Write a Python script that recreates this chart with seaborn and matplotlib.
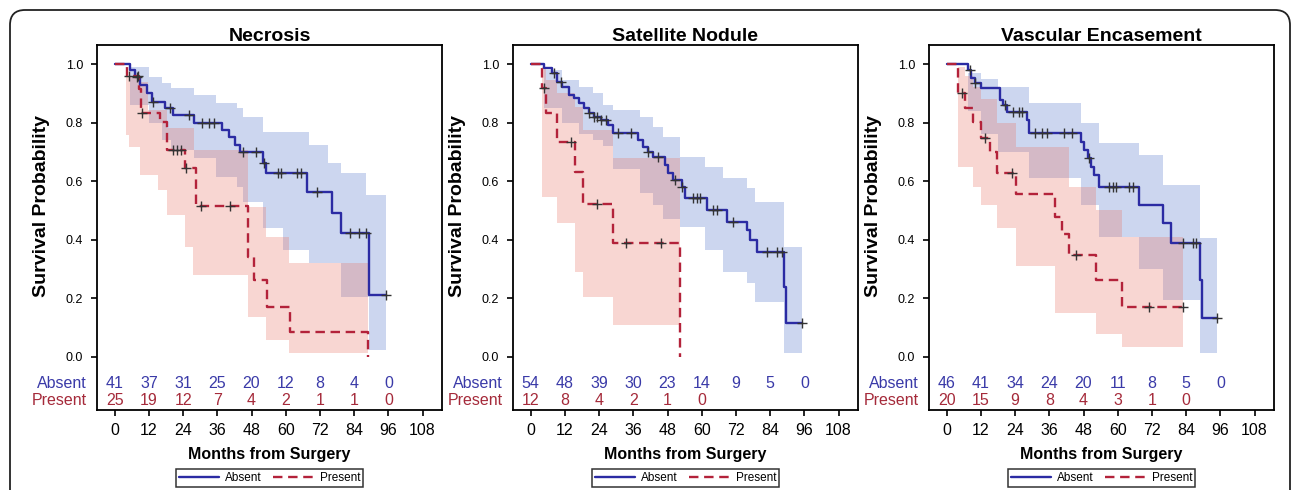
import numpy as np
import pandas as pd
import matplotlib
matplotlib.use("Agg")
import matplotlib.pyplot as plt
import seaborn as sns
from matplotlib.patches import FancyBboxPatch
from matplotlib.lines import Line2D
from matplotlib.transforms import blended_transform_factory

sns.set_theme(style="white")
plt.rcParams["font.family"] = ["Liberation Sans", "DejaVu Sans"]
plt.rcParams["text.color"] = "black"
plt.rcParams["axes.labelcolor"] = "black"

# ---- data ----
titles = ["Necrosis", "Satellite Nodule", "Vascular Encasement"]
groups = ["Absent", "Present"]
risk_times = [0, 12, 24, 36, 48, 60, 72, 84, 96]

# Necrosis
nec_abs_t = [0, 5.5, 7.3, 9.0, 11.3, 13.1, 17.6, 20.5, 27.9, 37.7, 40.0, 42.3, 44.0, 52.0, 53.2, 67.5, 76.1, 79.5, 89.2]
nec_abs_s = [1.0, 0.98, 0.957, 0.928, 0.90, 0.871, 0.849, 0.826, 0.80, 0.775, 0.75, 0.724, 0.70, 0.661, 0.627, 0.564, 0.493, 0.422, 0.212]
nec_abs_end = 95.0
nec_abs_cens = [7.9, 13.6, 19.4, 26.2, 30.8, 33.1, 34.8, 45.1, 49.7, 52.3, 57.2, 58.3, 64.0, 65.2, 70.9, 82.4, 85.8, 88.1, 95.0]
nec_abs_bt = [5.5, 11.9, 16.5, 19.9, 27.9, 35.4, 42.8, 45.1, 52.0, 58.9, 68.0, 74.9, 79.5, 88.1, 89.2]
nec_abs_hi = [0.99, 0.957, 0.934, 0.917, 0.894, 0.866, 0.849, 0.82, 0.769, 0.769, 0.724, 0.661, 0.627, 0.553, 0.553]
nec_abs_lo = [0.86, 0.80, 0.741, 0.706, 0.68, 0.615, 0.581, 0.53, 0.439, 0.365, 0.32, 0.32, 0.206, 0.206, 0.024]

nec_pre_t = [0, 4.2, 8.4, 9.4, 15.9, 18.2, 24.7, 28.5, 46.8, 49.0, 53.4, 61.4, 88.7]
nec_pre_s = [1.0, 0.959, 0.914, 0.832, 0.803, 0.706, 0.644, 0.515, 0.342, 0.262, 0.172, 0.085, 0.0]
nec_pre_end = 88.7
nec_pre_cens = [5.0, 8.3, 9.6, 20.5, 21.7, 23.4, 25.1, 30.2, 40.5]
nec_pre_bt = [3.9, 5.0, 8.4, 9.0, 11.8, 15.3, 18.2, 24.5, 27.4, 27.8, 46.8, 53.2, 61.2]
nec_pre_hi = [0.96, 0.96, 0.94, 0.94, 0.843, 0.843, 0.78, 0.78, 0.78, 0.706, 0.513, 0.41, 0.32]
nec_pre_lo = [0.758, 0.718, 0.718, 0.621, 0.621, 0.57, 0.485, 0.377, 0.28, 0.28, 0.138, 0.058, 0.0125]

nec_risk_abs = [41, 37, 31, 25, 20, 12, 8, 4, 0]
nec_risk_pre = [25, 19, 12, 7, 4, 2, 1, 1, 0]

# Satellite Nodule
sat_abs_t = [0, 4.6, 7.5, 9.3, 11.1, 13.4, 15.2, 17.0, 18.7, 20.5, 22.3, 24.6, 27.0, 28.7, 37.6, 39.3, 41.1,
             42.9, 47.0, 48.2, 49.9, 52.9, 54.1, 61.7, 68.8, 75.8, 77.0, 79.4, 89.0, 89.7]
sat_abs_s = [1.0, 0.985, 0.968, 0.94, 0.923, 0.894, 0.883, 0.866, 0.849, 0.832, 0.82, 0.809, 0.792, 0.763, 0.741,
             0.718, 0.701, 0.684, 0.655, 0.627, 0.604, 0.581, 0.542, 0.502, 0.462, 0.433, 0.399, 0.36, 0.24, 0.115]
sat_abs_end = 95.3
sat_abs_cens = [8.1, 10.5, 20.5, 22.3, 23.4, 24.6, 26.4, 30.5, 35.2, 41.1, 44.6, 50.5, 52.9, 57.0, 58.2, 59.4,
                64.1, 65.2, 71.1, 82.9, 86.4, 88.2, 95.3]
sat_abs_bt = [4.6, 11.1, 17.0, 21.7, 25.2, 28.7, 38.2, 42.9, 46.4, 52.3, 61.1, 67.6, 75.8, 78.8, 88.8]
sat_abs_hi = [0.98, 0.945, 0.923, 0.90, 0.86, 0.843, 0.82, 0.786, 0.752, 0.684, 0.65, 0.61, 0.576, 0.53, 0.377]
sat_abs_lo = [0.85, 0.80, 0.76, 0.74, 0.72, 0.64, 0.56, 0.52, 0.47, 0.445, 0.365, 0.291, 0.251, 0.189, 0.0125]

sat_pre_t = [0, 3.8, 5.2, 9.3, 15.5, 18.5, 28.7, 52.3]
sat_pre_s = [1.0, 0.917, 0.832, 0.735, 0.633, 0.522, 0.39, 0.0]
sat_pre_end = 52.3
sat_pre_cens = [4.8, 14.0, 23.4, 33.4, 45.8]
sat_pre_bt = [3.8, 5.2, 9.3, 15.5, 18.5, 28.7]
sat_pre_hi = [0.99, 0.945, 0.90, 0.854, 0.775, 0.678]
sat_pre_lo = [0.547, 0.547, 0.456, 0.291, 0.206, 0.109]

sat_risk_abs = [54, 48, 39, 30, 23, 14, 9, 5, 0]
sat_risk_pre = [12, 8, 4, 2, 1, 0]

# Vascular Encasement
vas_abs_t = [0, 7.5, 8.7, 9.9, 12.2, 18.7, 19.9, 21.1, 28.1, 28.7, 47.0, 48.2, 49.5, 50.5, 51.7, 53.5,
             67.6, 75.8, 78.8, 88.8, 89.4]
vas_abs_s = [1.0, 0.98, 0.951, 0.934, 0.917, 0.877, 0.86, 0.837, 0.809, 0.763, 0.735, 0.706, 0.68, 0.65,
             0.621, 0.581, 0.519, 0.456, 0.388, 0.263, 0.132]
vas_abs_end = 94.7
vas_abs_cens = [8.1, 9.9, 20.5, 23.4, 25.2, 26.4, 31.1, 33.5, 35.2, 41.1, 44.0, 49.9, 57.0, 58.2, 59.4,
                64.1, 65.2, 82.9, 86.4, 87.6, 94.7]
vas_abs_bt = [7.5, 12.2, 18.1, 28.7, 47.0, 53.5, 67.6, 75.8, 88.8]
vas_abs_hi = [0.97, 0.95, 0.92, 0.866, 0.80, 0.73, 0.69, 0.587, 0.405]
vas_abs_lo = [0.84, 0.76, 0.70, 0.61, 0.52, 0.411, 0.30, 0.195, 0.0125]

vas_pre_t = [0, 3.8, 6.3, 9.3, 12.2, 15.2, 17.5, 24.2, 38.1, 40.5, 42.9, 52.3, 61.5]
vas_pre_s = [1.0, 0.90, 0.849, 0.803, 0.746, 0.70, 0.627, 0.556, 0.479, 0.42, 0.348, 0.263, 0.172]
vas_pre_end = 82.9
vas_pre_cens = [5.2, 13.4, 22.8, 45.2, 71.1, 82.9]
vas_pre_bt = [3.8, 6.3, 9.3, 12.2, 17.5, 24.2, 38.1, 42.9, 52.3, 61.5]
vas_pre_hi = [0.99, 0.96, 0.92, 0.88, 0.80, 0.718, 0.718, 0.581, 0.502, 0.411]
vas_pre_lo = [0.65, 0.65, 0.58, 0.52, 0.44, 0.31, 0.15, 0.15, 0.08, 0.035]

vas_risk_abs = [46, 41, 34, 24, 20, 11, 8, 5, 0]
vas_risk_pre = [20, 15, 9, 8, 4, 3, 1, 0]

panels = [
    dict(title=titles[0],
         abs=(nec_abs_t, nec_abs_s, nec_abs_end, nec_abs_cens, nec_abs_bt, nec_abs_lo, nec_abs_hi),
         pre=(nec_pre_t, nec_pre_s, nec_pre_end, nec_pre_cens, nec_pre_bt, nec_pre_lo, nec_pre_hi),
         risk=(nec_risk_abs, nec_risk_pre)),
    dict(title=titles[1],
         abs=(sat_abs_t, sat_abs_s, sat_abs_end, sat_abs_cens, sat_abs_bt, sat_abs_lo, sat_abs_hi),
         pre=(sat_pre_t, sat_pre_s, sat_pre_end, sat_pre_cens, sat_pre_bt, sat_pre_lo, sat_pre_hi),
         risk=(sat_risk_abs, sat_risk_pre)),
    dict(title=titles[2],
         abs=(vas_abs_t, vas_abs_s, vas_abs_end, vas_abs_cens, vas_abs_bt, vas_abs_lo, vas_abs_hi),
         pre=(vas_pre_t, vas_pre_s, vas_pre_end, vas_pre_cens, vas_pre_bt, vas_pre_lo, vas_pre_hi),
         risk=(vas_risk_abs, vas_risk_pre)),
]

# ---- styles ----
line_col = {"Absent": "#2b2ba3", "Present": "#b3223a"}
band_col = {"Absent": "#6585cf", "Present": "#e8786a"}
band_alpha = {"Absent": 0.33, "Present": 0.3}
text_col = {"Absent": "#3a3aa8", "Present": "#a52a3a"}
W, H = 1292, 490
lefts = [97, 513, 929]

fig = plt.figure(figsize=(W / 100, H / 100), dpi=100)
fig.patch.set_facecolor("white")

for left, p in zip(lefts, panels):
    ax = fig.add_axes([left / W, 80 / H, 345 / W, 365 / H])
    ax.set_facecolor("white")

    rows = []
    for g in groups:
        t, s, end, cens, bt, lo, hi = p["abs"] if g == "Absent" else p["pre"]
        # confidence band
        bt2 = list(bt) + [end]
        ax.fill_between(bt2, list(lo) + [lo[-1]], list(hi) + [hi[-1]], step="post",
                        color=band_col[g], alpha=band_alpha[g], lw=0, zorder=1)
        tt = list(t) + [end]
        ss = list(s) + [s[-1]]
        rows.append(pd.DataFrame({"time": tt, "surv": ss, "group": g}))
        # censor marks on the curve
        idx = np.searchsorted(t, cens, side="right") - 1
        ax.plot(cens, np.asarray(s)[idx], "+", color="#333333", ms=6.5, mew=1.0, zorder=4)

    df = pd.concat(rows, ignore_index=True)
    sns.lineplot(data=df, x="time", y="surv", hue="group", style="group", ax=ax,
                 palette=line_col, dashes={"Absent": "", "Present": (4, 2.4)},
                 drawstyle="steps-post", estimator=None, sort=False, lw=1.7,
                 legend=False, zorder=3)

    ax.set_xlim(-6.2, 114.8)
    ax.set_ylim(-0.181, 1.065)
    ax.set_xticks(range(0, 109, 12))
    ax.set_yticks([0, 0.2, 0.4, 0.6, 0.8, 1.0])
    ax.set_yticklabels(["0.0", "0.2", "0.4", "0.6", "0.8", "1.0"])
    ax.tick_params(axis="x", direction="out", length=4, width=1.2, pad=5, labelsize=11.5,
                   bottom=True, colors="black")
    ax.tick_params(axis="y", direction="out", length=4, width=1.2, pad=6, labelsize=9,
                   left=True, colors="black")
    for sp in ax.spines.values():
        sp.set_visible(True)
        sp.set_color("black")
        sp.set_linewidth(1.3)

    ax.set_title(p["title"], fontsize=14, fontweight="bold", pad=3, color="black")
    ax.set_xlabel("Months from Surgery", fontsize=11.5, fontweight="bold")
    ax.xaxis.set_label_coords(0.5, -0.10)
    ax.set_ylabel("Survival Probability", fontsize=14, fontweight="bold")
    ax.yaxis.set_label_coords(-0.135, 0.56)
    ax.xaxis.label.set_va("top")

    # numbers at risk
    tr = blended_transform_factory(ax.transAxes, ax.transData)
    for g, yrow, vals in zip(groups, [-0.089, -0.150], p["risk"]):
        ax.text(-0.03, yrow, g, transform=tr, ha="right", va="center",
                fontsize=11.5, color=text_col[g])
        for tm, v in zip(risk_times, vals):
            ax.text(tm, yrow, str(v), ha="center", va="center", fontsize=11.5, color=text_col[g])

    handles = [Line2D([], [], color=line_col["Absent"], lw=1.7),
               Line2D([], [], color=line_col["Present"], lw=1.7, dashes=(4, 2.4))]
    leg = ax.legend(handles, groups, loc="upper center", bbox_to_anchor=(0.5, -0.162), ncol=2,
                    frameon=True, fancybox=False, edgecolor="black", fontsize=8.5,
                    handlelength=3.4, handletextpad=0.5, columnspacing=1.0,
                    borderpad=0.25, borderaxespad=0, labelcolor="black")
    leg.get_frame().set_linewidth(1.1)

# rounded outer frame
frame = FancyBboxPatch((0.1, -0.5), 12.8, 5.3, boxstyle="round,pad=0,rounding_size=0.15",
                       transform=fig.dpi_scale_trans, fill=False, edgecolor="#222222", lw=1.3)
fig.add_artist(frame)

fig.savefig("out.png", dpi=100)
